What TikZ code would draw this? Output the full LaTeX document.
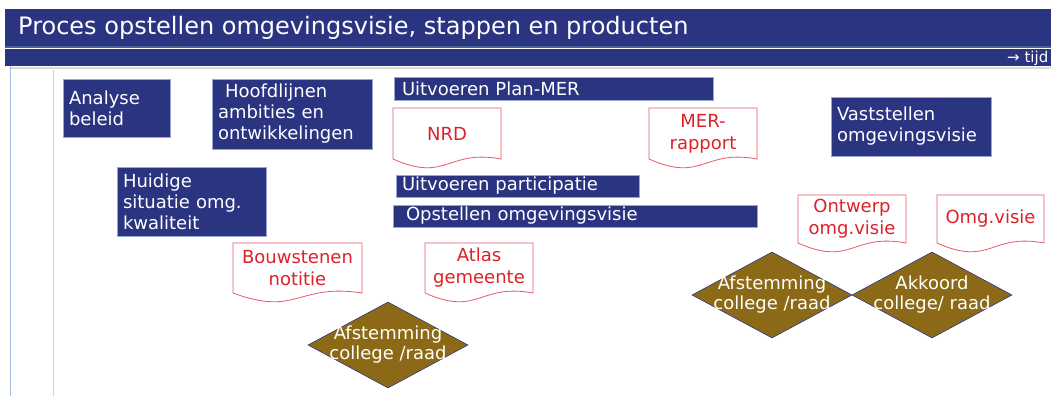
\documentclass[tikz,border=0pt]{standalone}
\usepackage{fontspec}
\setmainfont{DejaVu Sans}
\usetikzlibrary{shapes.geometric,calc}
\definecolor{navy}{RGB}{42,52,128}
\definecolor{stripe}{RGB}{70,100,150}
\definecolor{boxedge}{RGB}{150,168,205}
\definecolor{docred}{RGB}{222,32,40}
\definecolor{docline}{RGB}{232,90,100}
\definecolor{diambrown}{RGB}{139,105,22}
\definecolor{frameblue}{RGB}{165,190,220}
\newcommand\docoutline[1]{%
  \draw[docedge] (#1.south west) -- (#1.north west) -- (#1.north east) -- (#1.south east)
    .. controls ($(#1.south)+(0,-10)$) and ($(#1.south)+(0,24)$) .. (#1.south west);}
\begin{document}
\begin{tikzpicture}[x=1pt,y=-1pt,
  bar/.style={fill=navy, inner sep=0, outer sep=0, anchor=north west},
  box/.style={fill=navy, draw=boxedge, line width=0.6pt, text=white,
    font=\fontsize{18}{21}\selectfont, align=left, anchor=north west,
    inner xsep=6pt, inner ysep=0pt, outer sep=0pt},
  doc/.style={text=docred, font=\fontsize{18}{22}\selectfont, align=center,
    anchor=north west, inner sep=0pt, outer sep=0pt},
  docedge/.style={draw=docline, line width=0.8pt},
  diam/.style={diamond, fill=diambrown, draw=navy, line width=0.6pt, inner sep=0pt,
    minimum width=160, minimum height=86},
  dlab/.style={text=white, font=\fontsize{18}{20}\selectfont, align=center}]
\useasboundingbox (0,0) rectangle (1051,396);
\fill[white] (0,0) rectangle (1051,396);
% header
\node[bar, minimum width=1046, minimum height=38] (titlebar) at (5,9) {};
\node[bar, minimum width=1046, minimum height=17] (tijdbar) at (5,49) {};
\draw[stripe, line width=1.6pt] (titlebar.south west) -- (titlebar.south east);
\node[anchor=west, text=white, font=\fontsize{24}{26}\selectfont, inner sep=0] (title) at (18,28)
  {Proces opstellen omgevingsvisie, stappen en producten};
\node[anchor=west, text=white, font=\fontsize{15}{17}\selectfont, inner sep=0] (tijd) at (1007,58) {→ tijd};
% frame lines
\draw[gray!30, line width=2pt] (10,68) -- (1051,68);
\draw[frameblue, line width=1pt] (10,66) -- (10,396);
\draw[gray!35, line width=1pt] (53,70) -- (53,396);
% boxes
\node[box, text width=95, minimum height=58] (analyse) at (63,79) {Analyse\\beleid};
\node[box, text width=148, minimum height=70] (hoofd) at (212,79) {\hspace{7pt}Hoofdlijnen\\ambities en\\ontwikkelingen};
\node[box, text width=137, minimum height=69] (huidige) at (117,167) {Huidige\\situatie omg.\\kwaliteit};
\node[box, text width=307, minimum height=23] (planmer) at (394,77) {\hspace{2pt}Uitvoeren Plan-MER};
\node[box, text width=231, minimum height=22] (particip) at (396,175) {Uitvoeren participatie};
\node[box, text width=352, minimum height=22] (opstellen) at (393,205) {\hspace{7pt}Opstellen omgevingsvisie};
\node[box, text width=148, minimum height=59] (vaststellen) at (831,97) {Vaststellen\\omgevingsvisie};
% documents
\node[doc, minimum width=108, minimum height=51] (nrd) at (393,108) {NRD};
\docoutline{nrd}
\node[doc, minimum width=108, minimum height=51] (mer) at (649,108) {MER-\\rapport};
\docoutline{mer}
\node[doc, minimum width=108, minimum height=48] (ontwerp) at (798,195) {Ontwerp\\omg.visie};
\docoutline{ontwerp}
\node[doc, minimum width=107, minimum height=48] (omgvisie) at (937,195) {Omg.visie};
\docoutline{omgvisie}
\node[doc, minimum width=129, minimum height=50] (bouw) at (233,243) {Bouwstenen\\notitie};
\docoutline{bouw}
\node[doc, minimum width=108, minimum height=50] (atlas) at (425,243) {Atlas\\gemeente};
\docoutline{atlas}
% diamonds
\node[diam, label={[dlab]center:Afstemming\\college /raad}] (d1) at (388,345) {};
\node[diam, label={[dlab]center:Afstemming\\college /raad}] (d2) at (772,295) {};
\node[diam, label={[dlab]center:Akkoord\\college/ raad}] (d3) at (932,295) {};
\end{tikzpicture}
\end{document}
